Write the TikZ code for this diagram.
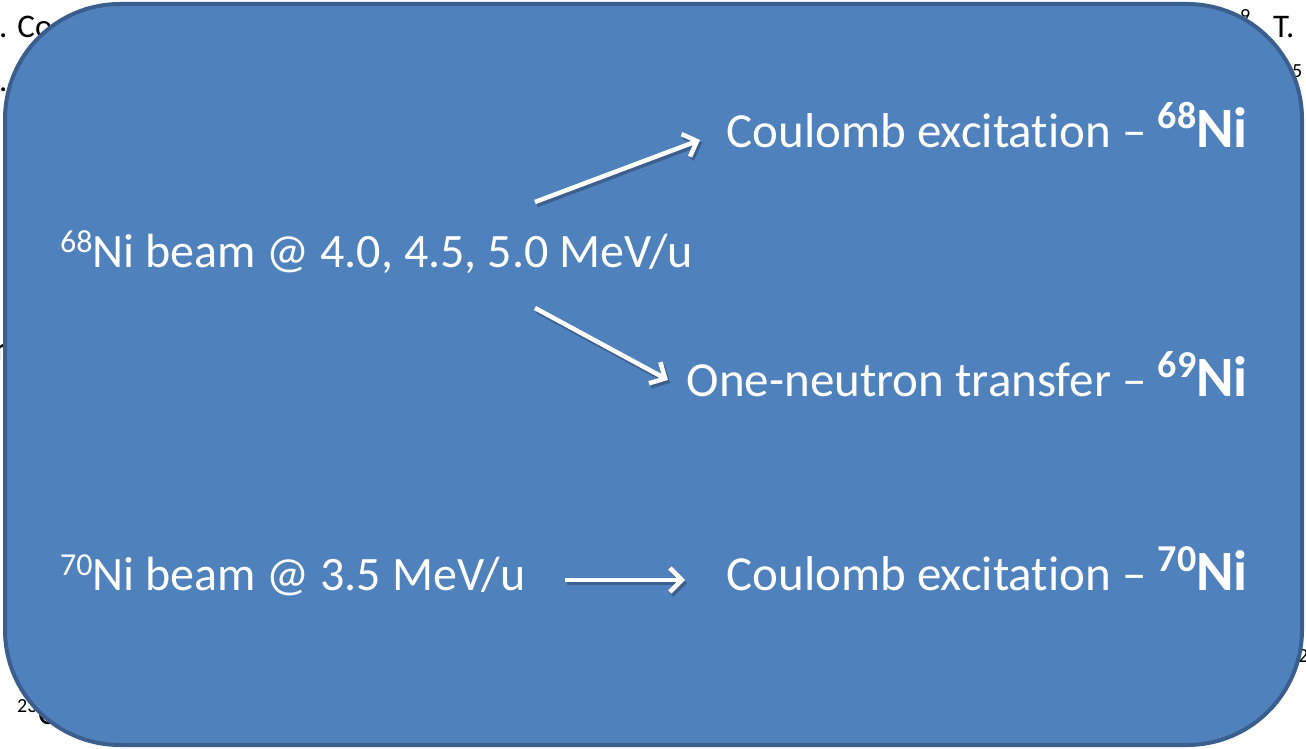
\documentclass[tikz,border=0pt]{standalone}
\usepackage{fontspec}
\setmainfont{Carlito}[Ligatures={NoCommon}]
\usetikzlibrary{arrows.meta}
\definecolor{boxfill}{HTML}{4F81BD}
\definecolor{boxline}{HTML}{3A5F8E}
\newcommand\isotope[1]{\raisebox{15pt}{\fontsize{32}{32}\selectfont #1}}
\newcommand\bigiso[2]{{\bfseries\raisebox{19pt}{\fontsize{38}{38}\selectfont #1}\fontsize{57}{60}\selectfont #2}}
\begin{document}
\begin{tikzpicture}[x=1pt,y=-1pt,
  txt/.style={font=\fontsize{48}{56}\selectfont, text=white, inner sep=0pt},
  rtxt/.style={font=\fontsize{49}{56}\selectfont, text=white, inner sep=0pt},
  bg/.style={font=\fontsize{33}{40}\selectfont, text=black, inner sep=0pt},
  bgsmall/.style={font=\fontsize{20}{24}\selectfont, text=black, inner sep=0pt},
  flow/.style={draw=white, line width=4.5pt, -{Straight Barb[length=12pt,width=24pt,line width=4.5pt]}},
  flowshadow/.style={draw=black, opacity=0.25, line width=4.5pt, -{Straight Barb[length=12pt,width=24pt,line width=4.5pt]}}]
\useasboundingbox (0,0) rectangle (1306,749);
\clip (0,0) rectangle (1306,749);
\fill[white] (0,0) rectangle (1306,749);
% fragments of text lying behind the box
\node[bg, anchor=base west] (f1) at (-1,38) {. Co};
\node[bg, anchor=base west] (f2) at (-1,92) {.};
\node[bgsmall, anchor=base west] (f3) at (1240,23) {9};
\node[bg, anchor=base west] (f4) at (1273,38) {T.};
\node[bgsmall, anchor=base west] (f5) at (1292,78) {5};
\node[bgsmall, anchor=base west] (f6) at (17,712) {23};
\node[bg, anchor=base west] (f7) at (38,724) {C};
\node[bgsmall, anchor=base west] (f8) at (1298,662) {2};
\node[bg, anchor=base west] (f9) at (-6,360) {\bfseries n};
% main box
\draw[boxline, fill=boxfill, line width=4pt, rounded corners=115pt] (5,4) rectangle (1302,745);
% texts
\node[txt, anchor=base west] (b68) at (60,267) {\isotope{68}Ni beam @ 4.0, 4.5, 5.0 MeV/u};
\node[txt, anchor=base west] (b70) at (60,590) {\isotope{70}Ni beam @ 3.5 MeV/u};
\node[rtxt, anchor=base east] (c68) at (1248,147) {Coulomb excitation – \bigiso{68}{Ni}};
\node[rtxt, anchor=base east] (t69) at (1248,396) {One-neutron transfer – \bigiso{69}{Ni}};
\node[rtxt, anchor=base east] (c70) at (1248,590) {Coulomb excitation – \bigiso{70}{Ni}};
% arrow end points
\coordinate (a1s) at (535,202);
\coordinate (a1e) at (700,140);
\coordinate (a2s) at (535,308);
\coordinate (a2e) at (668,380);
\coordinate (a3s) at (565,580);
\coordinate (a3e) at (685,580);
\foreach \s/\e in {a1s/a1e,a2s/a2e,a3s/a3e}{
  \draw[flowshadow] ([shift={(2,3)}]\s) -- ([shift={(2,3)}]\e);
}
\draw[flow] (a1s) -- (a1e);
\draw[flow] (a2s) -- (a2e);
\draw[flow] (a3s) -- (a3e);
\end{tikzpicture}
\end{document}
